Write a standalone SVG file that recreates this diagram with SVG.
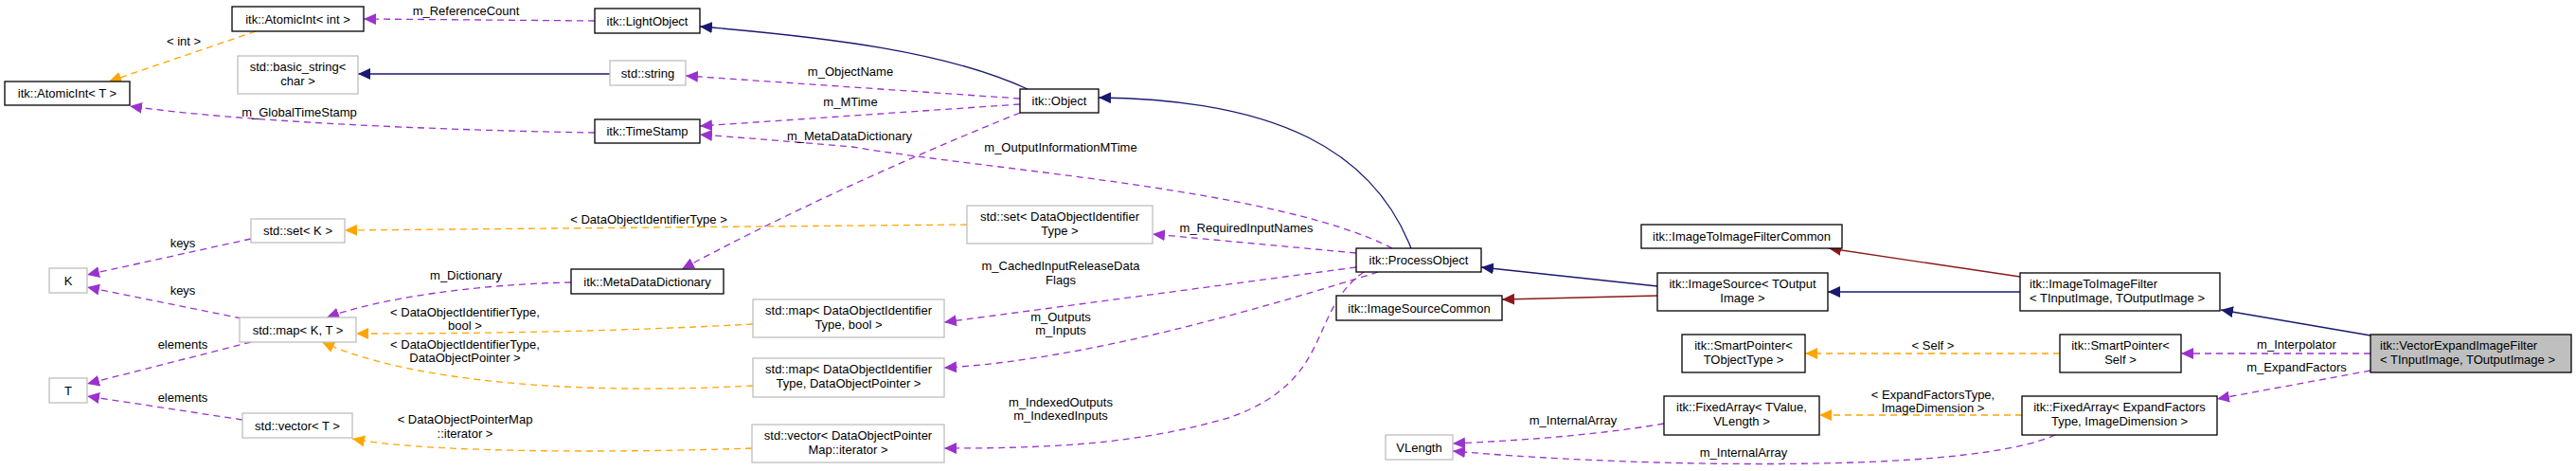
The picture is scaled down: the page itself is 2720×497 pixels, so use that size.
<svg xmlns="http://www.w3.org/2000/svg" width="2720" height="497" viewBox="0 0 2720 497">
<style>
text{font-family:"Liberation Sans",Arial,sans-serif;font-size:13px;fill:#000}
.n rect{fill:#fff;stroke:#000;stroke-width:1.3}
.g rect{fill:#fff;stroke:#bfbfbf;stroke-width:1.3}
.c{text-anchor:middle}
.e path{fill:none;stroke-width:1.3}
.p{stroke:#9a32cd;stroke-dasharray:7,5;marker-end:url(#mp)}
.o{stroke:#ffa500;stroke-dasharray:7,5;marker-end:url(#mo)}
.b{stroke:#191970;marker-end:url(#mb)}
.r{stroke:#8b1a1a;marker-end:url(#mr)}
</style>
<defs>
<marker id="mp" markerUnits="userSpaceOnUse" markerWidth="14" markerHeight="12" refX="13" refY="6" orient="auto"><path d="M0,0L13,6L0,12z" fill="#9a32cd"/></marker>
<marker id="mo" markerUnits="userSpaceOnUse" markerWidth="14" markerHeight="12" refX="13" refY="6" orient="auto"><path d="M0,0L13,6L0,12z" fill="#ffa500"/></marker>
<marker id="mb" markerUnits="userSpaceOnUse" markerWidth="14" markerHeight="12" refX="13" refY="6" orient="auto"><path d="M0,0L13,6L0,12z" fill="#191970"/></marker>
<marker id="mr" markerUnits="userSpaceOnUse" markerWidth="14" markerHeight="12" refX="13" refY="6" orient="auto"><path d="M0,0L13,6L0,12z" fill="#8b1a1a"/></marker>
</defs>
<rect width="2720" height="497" fill="#fff"/>
<g id="edges" class="e">
<path class="p" d="M628,22 L384,20"/>
<path class="o" d="M270,33 L115,86"/>
<path class="b" d="M644,78 L378,78"/>
<path class="p" d="M628,140 C450,137 250,128 137,112"/>
<path class="b" d="M1085,94 C1000,55 880,40 739,28"/>
<path class="p" d="M1077,104 L724,80"/>
<path class="p" d="M1077,110 L739,133"/>
<path class="p" d="M1470,262 C1350,200 1050,180 900,155 C820,148 780,145 739,142"/>
<path class="p" d="M1077,119 C950,170 820,230 720,284"/>
<path class="p" d="M603,298 C500,300 400,315 345,335"/>
<path class="p" d="M265,252 L92,290"/>
<path class="p" d="M255,336 L92,303"/>
<path class="p" d="M265,361 L92,405"/>
<path class="p" d="M256,443 L92,418"/>
<path class="o" d="M1021,237 L364,243"/>
<path class="o" d="M795,342 C650,350 500,352 376,352"/>
<path class="o" d="M795,407 C650,415 450,410 340,361"/>
<path class="o" d="M794,473 C650,478 450,478 372,463"/>
<path class="p" d="M1432,267 L1217,247"/>
<path class="p" d="M1432,282 L997,340"/>
<path class="p" d="M1455,287 C1350,320 1150,380 997,388"/>
<path class="p" d="M1440,287 C1380,330 1410,400 1300,440 C1200,470 1100,473 997,473"/>
<path class="b" d="M1490,262 C1450,160 1350,105 1160,103"/>
<path class="b" d="M1750,302 L1564,282"/>
<path class="r" d="M1750,312 L1586,316"/>
<path class="b" d="M2133,308 L1930,308"/>
<path class="r" d="M2133,292 L1931,262"/>
<path class="b" d="M2503,354 L2345,327"/>
<path class="p" d="M2503,373 L2303,373"/>
<path class="p" d="M2503,391 L2341,421"/>
<path class="o" d="M2175,373 L1906,373"/>
<path class="o" d="M2135,438 L1921,438"/>
<path class="p" d="M1757,447 C1680,460 1600,465 1534,468"/>
<path class="p" d="M2170,459 C2100,490 1900,492 1750,488 C1650,485 1580,480 1534,476"/>
</g>
<g id="edge-labels" class="c">
<text x="492" y="16">m_ReferenceCount</text>
<text x="194" y="48">&lt; int &gt;</text>
<text x="316" y="123">m_GlobalTimeStamp</text>
<text x="898" y="80">m_ObjectName</text>
<text x="898" y="112">m_MTime</text>
<text x="1120" y="160">m_OutputInformationMTime</text>
<text x="897" y="148">m_MetaDataDictionary</text>
<text x="492" y="295">m_Dictionary</text>
<text x="193" y="261">keys</text>
<text x="193" y="311">keys</text>
<text x="193" y="368">elements</text>
<text x="193" y="424">elements</text>
<text x="685" y="236">&lt; DataObjectIdentifierType &gt;</text>
<text x="491" y="334">&lt; DataObjectIdentifierType,</text>
<text x="491" y="348">bool &gt;</text>
<text x="491" y="368">&lt; DataObjectIdentifierType,</text>
<text x="491" y="382">DataObjectPointer &gt;</text>
<text x="491" y="447">&lt; DataObjectPointerMap</text>
<text x="491" y="462">::iterator &gt;</text>
<text x="1316" y="245">m_RequiredInputNames</text>
<text x="1120" y="285">m_CachedInputReleaseData</text>
<text x="1120" y="300">Flags</text>
<text x="1120" y="339">m_Outputs</text>
<text x="1120" y="353">m_Inputs</text>
<text x="1120" y="429">m_IndexedOutputs</text>
<text x="1120" y="443">m_IndexedInputs</text>
<text x="2425" y="368">m_Interpolator</text>
<text x="2425" y="392">m_ExpandFactors</text>
<text x="2041" y="369">&lt; Self &gt;</text>
<text x="2041" y="421">&lt; ExpandFactorsType,</text>
<text x="2041" y="435">ImageDimension &gt;</text>
<text x="1661" y="448">m_InternalArray</text>
<text x="1841" y="482">m_InternalArray</text>
</g>
<g id="n-atomicint-int" class="n"><rect x="245" y="7" width="139" height="26"/><text class="c" x="314.5" y="25">itk::AtomicInt&lt; int &gt;</text></g>
<g id="n-lightobject" class="n"><rect x="628" y="9" width="111" height="26"/><text class="c" x="683.5" y="27">itk::LightObject</text></g>
<g id="n-atomicint-t" class="n"><rect x="5" y="86" width="132" height="25"/><text class="c" x="71" y="103">itk::AtomicInt&lt; T &gt;</text></g>
<g id="n-basic-string" class="g"><rect x="251" y="59" width="127" height="40"/><text class="c" x="314.5" y="75">std::basic_string&lt;</text><text class="c" x="314.5" y="90">char &gt;</text></g>
<g id="n-string" class="g"><rect x="644" y="64" width="80" height="26"/><text class="c" x="684" y="82">std::string</text></g>
<g id="n-timestamp" class="n"><rect x="628" y="126" width="111" height="25"/><text class="c" x="683.5" y="143">itk::TimeStamp</text></g>
<g id="n-object" class="n"><rect x="1077" y="94" width="83" height="25"/><text class="c" x="1118.5" y="111">itk::Object</text></g>
<g id="n-metadatadictionary" class="n"><rect x="603" y="284" width="161" height="26"/><text class="c" x="683.5" y="302">itk::MetaDataDictionary</text></g>
<g id="n-set-k" class="g"><rect x="265" y="231" width="99" height="25"/><text class="c" x="314.5" y="248">std::set&lt; K &gt;</text></g>
<g id="n-k" class="g"><rect x="52" y="283" width="40" height="26"/><text class="c" x="72" y="301">K</text></g>
<g id="n-map-kt" class="g"><rect x="253" y="335" width="123" height="26"/><text class="c" x="314.5" y="353">std::map&lt; K, T &gt;</text></g>
<g id="n-t" class="g"><rect x="52" y="399" width="40" height="26"/><text class="c" x="72" y="417">T</text></g>
<g id="n-vector-t" class="g"><rect x="256" y="436" width="116" height="26"/><text class="c" x="314" y="454">std::vector&lt; T &gt;</text></g>
<g id="n-set-doi" class="g"><rect x="1021" y="217" width="196" height="40"/><text class="c" x="1119" y="233">std::set&lt; DataObjectIdentifier</text><text class="c" x="1119" y="248">Type &gt;</text></g>
<g id="n-map-doi-bool" class="g"><rect x="795" y="316" width="202" height="40"/><text class="c" x="896" y="332">std::map&lt; DataObjectIdentifier</text><text class="c" x="896" y="347">Type, bool &gt;</text></g>
<g id="n-map-doi-dop" class="g"><rect x="795" y="378" width="202" height="41"/><text class="c" x="896" y="394">std::map&lt; DataObjectIdentifier</text><text class="c" x="896" y="409">Type, DataObjectPointer &gt;</text></g>
<g id="n-vector-dop" class="g"><rect x="794" y="448" width="203" height="40"/><text class="c" x="895.5" y="464">std::vector&lt; DataObjectPointer</text><text class="c" x="895.5" y="479">Map::iterator &gt;</text></g>
<g id="n-processobject" class="n"><rect x="1432" y="262" width="132" height="25"/><text class="c" x="1498" y="279">itk::ProcessObject</text></g>
<g id="n-imagesourcecommon" class="n"><rect x="1411" y="312" width="175" height="26"/><text class="c" x="1498.5" y="330">itk::ImageSourceCommon</text></g>
<g id="n-vlength" class="g"><rect x="1463" y="459" width="71" height="26"/><text class="c" x="1498.5" y="477">VLength</text></g>
<g id="n-imagetoimagefiltercommon" class="n"><rect x="1733" y="237" width="212" height="25"/><text class="c" x="1839" y="254">itk::ImageToImageFilterCommon</text></g>
<g id="n-imagesource" class="n"><rect x="1750" y="288" width="180" height="40"/><text class="c" x="1840" y="304">itk::ImageSource&lt; TOutput</text><text class="c" x="1840" y="319">Image &gt;</text></g>
<g id="n-imagetoimagefilter" class="n"><rect x="2133" y="288" width="211" height="40"/><text x="2143" y="304">itk::ImageToImageFilter</text><text x="2143" y="319">&lt; TInputImage, TOutputImage &gt;</text></g>
<g id="n-smartpointer-t" class="n"><rect x="1776" y="353" width="130" height="40"/><text class="c" x="1841" y="369">itk::SmartPointer&lt;</text><text class="c" x="1841" y="384">TObjectType &gt;</text></g>
<g id="n-smartpointer-self" class="n"><rect x="2175" y="353" width="128" height="40"/><text class="c" x="2239" y="369">itk::SmartPointer&lt;</text><text class="c" x="2239" y="384">Self &gt;</text></g>
<g id="n-vectorexpand" class="n"><rect x="2503" y="353" width="212" height="40" style="fill:#bfbfbf"/><text x="2513" y="369">itk::VectorExpandImageFilter</text><text x="2513" y="384">&lt; TInputImage, TOutputImage &gt;</text></g>
<g id="n-fixedarray-tvalue" class="n"><rect x="1757" y="418" width="164" height="41"/><text class="c" x="1839" y="434">itk::FixedArray&lt; TValue,</text><text class="c" x="1839" y="449">VLength &gt;</text></g>
<g id="n-fixedarray-expand" class="n"><rect x="2135" y="418" width="206" height="41"/><text class="c" x="2238" y="434">itk::FixedArray&lt; ExpandFactors</text><text class="c" x="2238" y="449">Type, ImageDimension &gt;</text></g>
</svg>
